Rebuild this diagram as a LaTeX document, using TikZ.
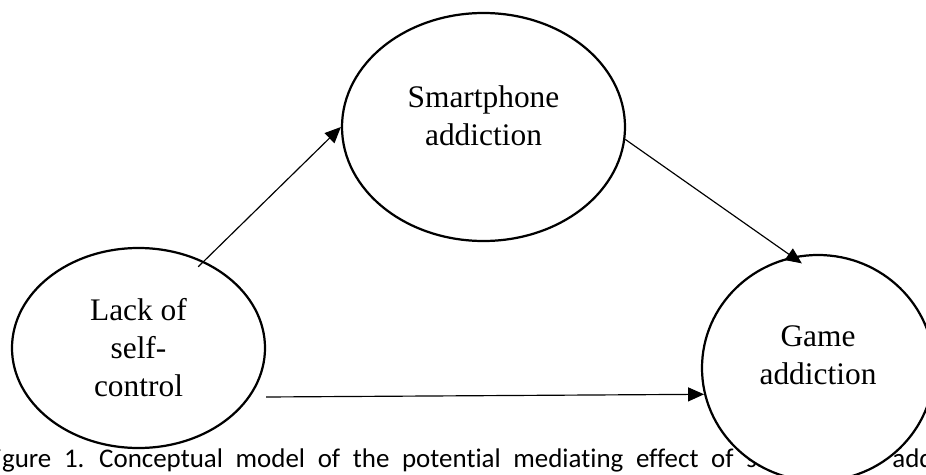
\documentclass[tikz,border=0pt]{standalone}
\usepackage{fontspec}
\setmainfont{Liberation Serif}
\newfontfamily\capfont[Ligatures=NoCommon]{Carlito}
\usetikzlibrary{arrows.meta,shapes.geometric}

\begin{document}
\begin{tikzpicture}[>={Triangle[length=4.8mm,width=4.2mm]},
    bubble/.style={draw,ellipse,line width=1.9pt,fill=white,inner sep=0pt},
    words/.style={align=center,inner sep=0pt,
                  font=\fontsize{26.8}{32.4}\selectfont},
    link/.style={line width=1pt,->}]
    \clip (0,0) rectangle (27.78,14.22);

    \node[anchor=base west,inner sep=0pt,font=\capfont\fontsize{23}{27}\selectfont]
        (caption) at (-0.5,0.2) {\spaceskip=10.8pt Figure 1. Conceptual model of
        the potential mediating effect of smartphone addiction};

    \node[bubble,minimum width=8.49cm,minimum height=6.84cm] (phone) at (14.505,10.41) {};
    \node[words] (phonetext) at ([yshift=3.4mm]phone.center) {Smartphone\\addiction};

    \node[bubble,minimum width=7.59cm,minimum height=6cm] (lack) at (4.155,3.78) {};
    \node[words] (lacktext) at (lack.center) {Lack of\\self-\\control};

    \node[bubble,minimum width=6.96cm,minimum height=6.78cm] (game) at (24.54,3.18) {};
    \node[words] (gametext) at ([yshift=3.9mm]game.center) {Game\\addiction};

    \coordinate (direct) at ([yshift=-14.7mm]lack.east);
    \draw[link,shorten <=-2.4mm] (lack.53) -- (phone.west);
    \draw[link,shorten >=-3.5mm] (phone.-5) -- (game.103);
    \draw[link] (direct) -- (game.193);
\end{tikzpicture}
\end{document}
